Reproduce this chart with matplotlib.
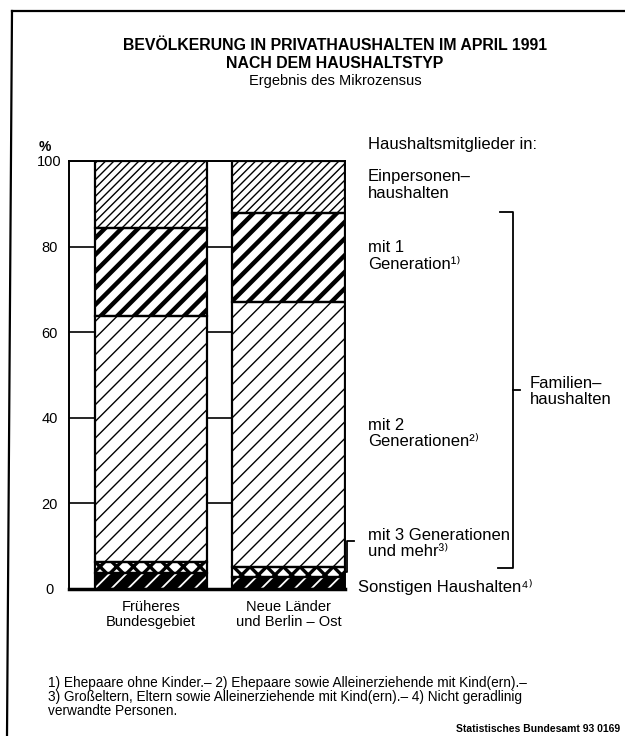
import matplotlib.pyplot as plt
from matplotlib.lines import Line2D

plt.rcParams['font.family'] = ['Liberation Sans', 'DejaVu Sans']

# data (percent of population in private households, April 1991)
regions = ['Früheres\nBundesgebiet', 'Neue Länder\nund Berlin – Ost']
sonstige = [3.7, 2.8]
gen3 = [2.6, 2.3]
gen2 = [57.4, 62.0]
gen1 = [20.6, 20.8]
einpersonen = [15.7, 12.1]
yticks = [0, 20, 40, 60, 80, 100]

W, H = 625, 736
fig = plt.figure(figsize=(W / 100, H / 100), dpi=100)


def fx(x):
    return x / W


def fy(y):
    return 1 - y / H


ax = fig.add_axes([fx(69), fy(589), 276 / W, 428 / H])
pos = [1, 2]
width = 0.815

# segments bottom to top: values, face, hatch colour, hatch, hatch linewidth
segments = [
    (sonstige, 'black', 'white', '//', 1.3),
    (gen3, 'white', 'black', 'xx', 2.4),
    (gen2, 'white', 'black', '//', 1.0),
    (gen1, 'white', 'black', '//', 3.2),
    (einpersonen, 'white', 'black', '////', 1.0),
]

bottom = [0, 0]
for vals, face, hcol, hatch, hlw in segments:
    with plt.rc_context({'hatch.linewidth': hlw}):
        bars = ax.bar(pos, vals, width, bottom=bottom, color=face,
                      edgecolor=hcol, hatch=hatch, linewidth=0, zorder=2)
        for b in bars:
            if hasattr(b, 'set_hatch_linewidth'):
                b.set_hatch_linewidth(hlw)
    ax.bar(pos, vals, width, bottom=bottom, fill=False,
           edgecolor='black', linewidth=1.6, zorder=3)
    bottom = [b0 + v for b0, v in zip(bottom, vals)]

ax.set_xlim(0.404, 2.411)
ax.set_ylim(0, 100)
ax.set_yticks(yticks, labels=[str(t) for t in yticks])
ax.set_xticks(pos, labels=regions)
ax.tick_params(axis='y', length=0, pad=14, labelsize=10.5)
ax.tick_params(axis='x', length=0, pad=8, labelsize=10.5)
for lbl in ax.get_yticklabels():
    lbl.set_horizontalalignment('center')
for lbl in ax.get_xticklabels():
    lbl.set_linespacing(1.1)
ax.yaxis.grid(True, color='black', linewidth=1.2)
ax.set_axisbelow(True)
for s in ax.spines.values():
    s.set_linewidth(1.4)
ax.spines['bottom'].set_linewidth(2.5)

fig.text(fx(45), fy(147), '%', ha='center', va='center', fontsize=10, fontweight='bold')

# title
fig.text(fx(335), fy(45), 'BEVÖLKERUNG IN PRIVATHAUSHALTEN IM APRIL 1991',
         ha='center', va='center', fontsize=11.4, fontweight='bold')
fig.text(fx(335), fy(63), 'NACH DEM HAUSHALTSTYP',
         ha='center', va='center', fontsize=11.4, fontweight='bold')
fig.text(fx(335), fy(81), 'Ergebnis des Mikrozensus',
         ha='center', va='center', fontsize=10.5)

# right side labels
lab = dict(ha='left', va='center', fontsize=12)
fig.text(fx(368), fy(145), 'Haushaltsmitglieder in:', **lab)
fig.text(fx(368), fy(185), 'Einpersonen–\nhaushalten', linespacing=1.25, **lab)
fig.text(fx(368), fy(256), 'mit 1\nGeneration¹⁾', linespacing=1.1, **lab)
fig.text(fx(368), fy(433.5), 'mit 2\nGenerationen²⁾', linespacing=1.1, **lab)
fig.text(fx(368), fy(543.5), 'mit 3 Generationen\nund mehr³⁾', linespacing=1.1, **lab)
fig.text(fx(358), fy(587), 'Sonstigen Haushalten⁴⁾', **lab)
fig.text(fx(530), fy(391.5), 'Familien–\nhaushalten', linespacing=1.1, **lab)

# brackets
def line(xs, ys, lw=1.3):
    fig.add_artist(Line2D([fx(x) for x in xs], [fy(y) for y in ys],
                          color='black', linewidth=lw))


line([500, 513, 513, 498], [212, 212, 568, 568])
line([513, 520], [390, 390])
line([354, 347, 347, 345], [541, 541, 572, 572])

# frame (top and left only)
line([12, 625], [11, 11], lw=1.6)
line([12, 7], [11, 736], lw=1.6)

# footnotes
fig.text(fx(48), fy(697),
         '1) Ehepaare ohne Kinder.– 2) Ehepaare sowie Alleinerziehende mit Kind(ern).–\n'
         '3) Großeltern, Eltern sowie Alleinerziehende mit Kind(ern).– 4) Nicht geradlinig\n'
         'verwandte Personen.',
         ha='left', va='center', fontsize=9.8, linespacing=1.0)
fig.text(fx(620), fy(729), 'Statistisches Bundesamt 93 0169',
         ha='right', va='center', fontsize=7.5, fontweight='bold')

fig.savefig('out.png', dpi=100)
